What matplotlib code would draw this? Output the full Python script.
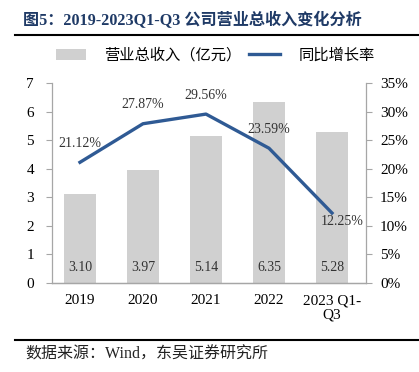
import matplotlib
matplotlib.use("Agg")
import matplotlib.pyplot as plt
from matplotlib.lines import Line2D
from matplotlib.patches import Patch
from matplotlib.ticker import FuncFormatter

plt.rcParams['font.family'] = ['Liberation Serif', 'Noto Sans CJK SC', 'DejaVu Sans']

categories = ["2019", "2020", "2021", "2022", "2023 Q1-\nQ3"]
revenue = [3.10, 3.97, 5.14, 6.35, 5.28]
growth = [21.12, 27.87, 29.56, 23.59, 12.25]
left_ticks = [0, 1, 2, 3, 4, 5, 6, 7]
right_ticks = [0, 5, 10, 15, 20, 25, 30, 35]

bar_color = "#D0D0D0"
line_color = "#2F5A94"
spine_color = "#A6A6A6"
title_color = "#1F3A66"

fig = plt.figure(figsize=(4.19, 3.72), dpi=100)
ax = fig.add_axes([52/419, 1-283/372, (366-52)/419, (283-83)/372])
ax2 = ax.twinx()

x = list(range(len(categories)))
ax.bar(x, revenue, width=0.51, color=bar_color, zorder=1)
for xi, v in zip(x, revenue):
    ax.annotate(f"{v:.2f}", xy=(xi, 0), xytext=(0, 11), textcoords='offset points',
                ha='center', va='center', fontsize=10, color='#333333')

ax.set_xlim(-0.444, 4.54)
ax.set_ylim(0, 7)
ax.set_yticks(left_ticks)
ax.set_xticks(x)
ax.set_xticklabels(categories, fontsize=11, linespacing=1.1)
ax.tick_params(axis='x', length=0, pad=8)
ax.tick_params(axis='y', length=4, color=spine_color, labelsize=11, pad=9, direction='out')

ax2.plot(x, growth, color=line_color, lw=2.4, zorder=3)
ax2.set_ylim(0, 35)
ax2.set_yticks(right_ticks)
ax2.yaxis.set_major_formatter(FuncFormatter(lambda v, p: f"{v:.0f}%"))
ax2.tick_params(axis='y', length=4, color=spine_color, labelsize=11, pad=6, direction='out')

for i, (xi, g) in enumerate(zip(x, growth)):
    if i == len(growth) - 1:
        off = (7, -6.3)
    else:
        off = (0, 13.5)
    ax2.annotate(f"{g:.2f}%", xy=(xi, g), xytext=off, textcoords='offset points',
                 ha='center', va='center', fontsize=10, color='#333333')

for a in (ax, ax2):
    a.spines['top'].set_visible(False)
    for s in ('left', 'right', 'bottom'):
        a.spines[s].set_color(spine_color)
        a.spines[s].set_linewidth(0.9)
ax.spines['right'].set_visible(False)
ax2.spines['left'].set_visible(False)

handles = [Patch(facecolor=bar_color, edgecolor='none', label="营业总收入（亿元）"),
           Line2D([0], [0], color=line_color, lw=2.4, label="同比增长率")]
fig.legend(handles=handles, loc='center', bbox_to_anchor=(215/419, 1-55/372), ncol=2,
           frameon=False, handlelength=2.0, handletextpad=1.2,
           columnspacing=0.5, prop={'family': ['Noto Sans CJK SC'], 'size': 11})

fig.text(23/419, 1-20/372, "图5：2019-2023Q1-Q3 公司营业总收入变化分析",
         fontsize=11.6, fontweight='bold', color=title_color, ha='left', va='center',
         family=['Liberation Serif', 'Noto Sans CJK SC'])
fig.add_artist(Line2D([15/419, 1], [1-35/372, 1-35/372], color='black', lw=1.5,
                      transform=fig.transFigure))
fig.add_artist(Line2D([15/419, 1], [1-340/372, 1-340/372], color='black', lw=1.5,
                      transform=fig.transFigure))
fig.text(25/419, 1-355/372, "数据来源：Wind，东吴证券研究所", fontsize=11.5,
         ha='left', va='center', color='#222222',
         family=['Liberation Serif', 'Noto Sans CJK SC'])

fig.savefig("out.png", dpi=100)
